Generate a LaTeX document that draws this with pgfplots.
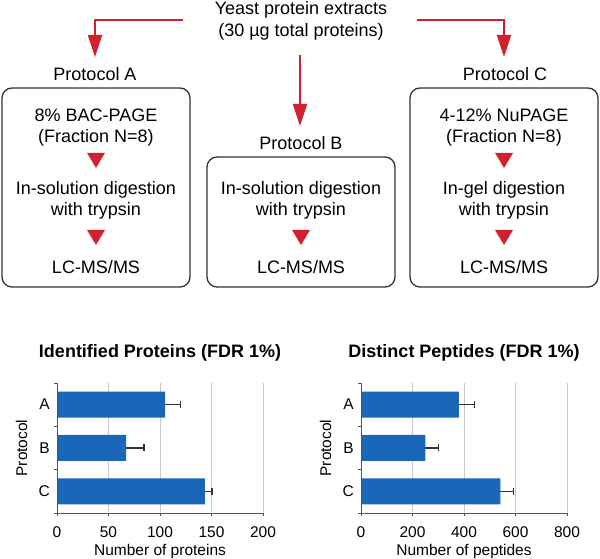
\documentclass[border=0pt]{standalone}
\usepackage{fontspec}
\setmainfont{Liberation Sans}
\usepackage{pgfplots}
\pgfplotsset{compat=1.18}
\usetikzlibrary{arrows.meta}
\definecolor{flowred}{HTML}{D3202F}
\definecolor{barblue}{HTML}{1A66B8}
\definecolor{boxgray}{HTML}{333333}
\definecolor{axisgray}{HTML}{555555}
\definecolor{gridgray}{HTML}{C8C8C8}
\definecolor{errgray}{HTML}{333333}
\newcommand\bigfs{\fontsize{18bp}{22bp}\selectfont}
\newcommand\smallfs{\fontsize{15.5bp}{18bp}\selectfont}
\newcommand\tri[2]{\fill[flowred] (#1-9,#2) -- (#1+9,#2) -- (#1,#2-15) -- cycle;}
\pgfplotsset{
  every axis title/.style={at={(axis description cs:0.5,1)}, anchor=base, yshift=25bp, font=\bigfs\bfseries, inner sep=0pt},
  every axis x label/.style={at={(axis description cs:0.5,0)}, anchor=base, yshift=-42bp, font=\smallfs, inner sep=0pt},
  every axis y label/.style={at={(axis description cs:-0.1456,0.5)}, rotate=90, anchor=base, font=\smallfs, inner sep=0pt},
  mybar/.style={
    scale only axis, width=206bp, height=130bp, anchor=south west,
    xbar, bar width=0.6,
    ymin=-0.5, ymax=2.5, y dir=reverse,
    ytick={-0.5,0.5,1.5,2.5}, yticklabels={,,,},
    extra y ticks={0,1,2}, extra y tick labels={A,B,C},
    extra y tick style={major tick length=0pt},
    axis x line*=bottom, axis y line*=left,
    axis line style={-, draw=axisgray, line width=0.9bp},
    xmajorgrids, grid style={draw=gridgray, line width=0.9bp},
    tick align=outside, major tick length=3bp,
    tick style={draw=axisgray, line width=0.8bp},
    /pgf/number format/assume math mode=true,
    tick label style={font=\smallfs},
    xticklabel style={anchor=base, yshift=-22bp, inner sep=0pt},
    yticklabel style={anchor=east, inner sep=0pt, xshift=-7bp},
    ylabel={Protocol},
    clip=false,
  },
  mybars/.style={fill=barblue, draw=none,
    error bars/.cd, x dir=plus, x explicit, error mark=|,
    error bar style={draw=errgray, line width=1.1bp},
    error mark options={draw=errgray, line width=1.1bp, mark size=3.5bp}}
}
\begin{document}
\begin{tikzpicture}[x=1bp, y=1bp, ft/.style={font=\bigfs, inner sep=0pt, anchor=base}]
\useasboundingbox (0,0) rectangle (600,559);
% top text
\node[ft] at (301,544) {Yeast protein extracts};
\node[ft] at (301,522) {(30 µg total proteins)};
% arrows
\draw[flowred, line width=2bp, -{Triangle[width=14bp,length=22bp]}] (183,539) -- (95,539) -- (95,502);
\draw[flowred, line width=2bp, -{Triangle[width=14bp,length=22bp]}] (417,539) -- (504,539) -- (504,502);
\draw[flowred, line width=2bp, -{Triangle[width=14bp,length=22bp]}] (300,504) -- (300,433);
% protocol labels
\node[ft] at (95,478) {Protocol A};
\node[ft] at (505,478) {Protocol C};
\node[ft] at (301,409) {Protocol B};
% boxes
\draw[boxgray, line width=1.3bp, rounded corners=10bp] (2,471) rectangle (190,272);
\draw[boxgray, line width=1.3bp, rounded corners=10bp] (410,471) rectangle (598,272);
\draw[boxgray, line width=1.3bp, rounded corners=10bp] (207,402) rectangle (395,272);
% box A
\node[ft] at (96,437.5) {8\% BAC-PAGE};
\node[ft] at (96,416) {(Fraction N=8)};
\tri{96}{406}
\node[ft] at (96,364) {In-solution digestion};
\node[ft] at (96,343) {with trypsin};
\tri{96}{329}
\node[ft] at (96,285) {LC-MS/MS};
% box B
\node[ft] at (301,364) {In-solution digestion};
\node[ft] at (301,343) {with trypsin};
\tri{301}{329}
\node[ft] at (301,285) {LC-MS/MS};
% box C
\node[ft] at (504,437.5) {4-12\% NuPAGE};
\node[ft] at (504,416) {(Fraction N=8)};
\tri{504}{406}
\node[ft] at (504,364) {In-gel digestion};
\node[ft] at (504,343) {with trypsin};
\tri{504}{329}
\node[ft] at (504,285) {LC-MS/MS};
% charts
\begin{axis}[mybar, at={(57bp,46bp)}, xmin=0, xmax=200, xtick={0,50,100,150,200},
  title={Identified Proteins (FDR 1\%)}, xlabel={Number of proteins}]
\addplot[mybars] coordinates {(105,0) +- (14.5,0) (67,1) +- (17.5,0) (143.5,2) +- (7,0)};
\end{axis}
\begin{axis}[mybar, at={(361bp,46bp)}, xmin=0, xmax=800, xtick={0,200,400,600,800},
  title={Distinct Peptides (FDR 1\%)}, xlabel={Number of peptides}]
\addplot[mybars] coordinates {(380,0) +- (60,0) (250,1) +- (52,0) (541,2) +- (51,0)};
\end{axis}
\end{tikzpicture}
\end{document}
